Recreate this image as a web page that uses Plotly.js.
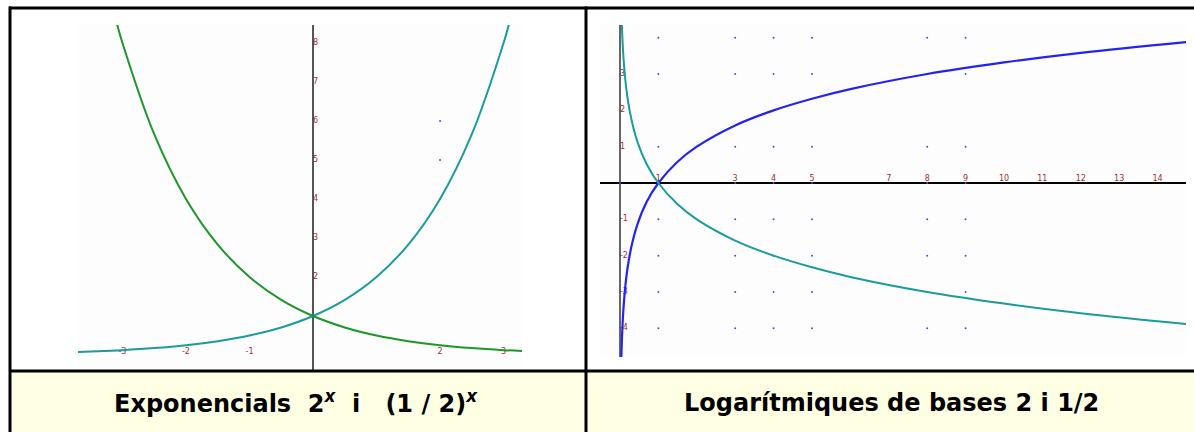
<!DOCTYPE html>
<html>
<head>
<meta charset="utf-8">
<script src="https://cdn.plot.ly/plotly-3.0.1.min.js"></script>
<style>
  html, body { margin: 0; padding: 0; background: #ffffff; }
  #chart { width: 1194px; height: 432px; }
</style>
</head>
<body>
<div id="chart"></div>
<script>
// Exponencials: valors llegits de la imatge
const expX = [-3.7, -3.5, -3.0, -2.5, -2.0, -1.5, -1.0, -0.5, 0, 0.5, 1.0, 1.5, 2.0, 2.5, 3.0, 3.1];
const exp2 = [0.077, 0.088, 0.125, 0.177, 0.25, 0.354, 0.5, 0.707, 1, 1.414, 2, 2.83, 4, 5.66, 8, 8.57];
const halfX = [-3.1, -3.0, -2.5, -2.0, -1.5, -1.0, -0.5, 0, 0.5, 1.0, 1.5, 2.0, 2.5, 3.0, 3.3];
const expHalf = [8.57, 8, 5.66, 4, 2.83, 2, 1.414, 1, 0.707, 0.5, 0.354, 0.25, 0.177, 0.125, 0.102];

// Logaritmes
const logX = [0.036, 0.05, 0.07, 0.1, 0.14, 0.2, 0.3, 0.45, 0.7, 1, 1.5, 2, 3, 4, 5, 6, 8, 10, 12, 14.74];
const log2 = [-4.8, -4.32, -3.84, -3.32, -2.84, -2.32, -1.74, -1.15, -0.51, 0, 0.585, 1, 1.585, 2, 2.32, 2.585, 3, 3.32, 3.585, 3.88];
const logHalf = [4.8, 4.32, 3.84, 3.32, 2.84, 2.32, 1.74, 1.15, 0.51, 0, -0.585, -1, -1.585, -2, -2.32, -2.585, -3, -3.32, -3.585, -3.88];

// etiquetes dels eixos
const leftXTicks = [-3, -2, -1, 2, 3];
const leftYTicks = [2, 3, 4, 5, 6, 7, 8];
const rightXTicks = [1, 3, 4, 5, 7, 8, 9, 10, 11, 12, 13, 14];
const rightYTicks = [3, 2, 1, -1, -2, -3, -4];

// punts de la quadrícula
const leftDotX = [0, 2];
const leftDotY = [6, 5, 4];
const rightDotX = [0, 1, 3, 4, 5, 8, 9];
const rightDotY = [4, 3, 1, 0, -1, -2, -3, -4];

const captions = ["Exponencials\u00a0\u00a02<sup><i>x</i></sup>\u00a0\u00a0i\u00a0\u00a0\u00a0(1 / 2)<sup><i>x</i></sup>",
                  "Logarítmiques de bases 2 i 1/2"];

const W = 1194, H = 432;
const fx = p => p / W;
const fy = p => 1 - p / H;

function grid(xs, ys) {
    const gx = [], gy = [];
    xs.forEach(x => ys.forEach(y => { gx.push(x); gy.push(y); }));
    return { x: gx, y: gy };
}

const lg = grid(leftDotX, leftDotY);
const rg = grid(rightDotX, rightDotY);
const tickFont = { family: "DejaVu Sans", size: 8, color: "#a03030" };
const dotMarker = { color: "#5050c8", size: 2 };

const traces = [
    { x: lg.x, y: lg.y, mode: "markers", marker: dotMarker, xaxis: "x", yaxis: "y", hoverinfo: "skip" },
    { x: rg.x, y: rg.y, mode: "markers", marker: dotMarker, xaxis: "x2", yaxis: "y2", hoverinfo: "skip" },
    { x: leftXTicks, y: leftXTicks.map(() => 0.08), mode: "text", text: leftXTicks.map(String),
      textfont: tickFont, textposition: "middle center", xaxis: "x", yaxis: "y" },
    { x: leftYTicks.map(() => 0), y: leftYTicks, mode: "text", text: leftYTicks.map(String),
      textfont: tickFont, textposition: "middle right", xaxis: "x", yaxis: "y" },
    { x: rightXTicks, y: rightXTicks.map(() => 0), mode: "text", text: rightXTicks.map(String),
      textfont: tickFont, textposition: "top center", xaxis: "x2", yaxis: "y2" },
    { x: rightYTicks.map(() => 0), y: rightYTicks, mode: "text", text: rightYTicks.map(String),
      textfont: tickFont, textposition: "middle right", xaxis: "x2", yaxis: "y2" },
    { x: expX, y: exp2, mode: "lines", line: { color: "#1a9c9c", width: 2, shape: "spline" }, xaxis: "x", yaxis: "y" },
    { x: halfX, y: expHalf, mode: "lines", line: { color: "#1d962a", width: 2, shape: "spline" }, xaxis: "x", yaxis: "y" },
    { x: logX, y: log2, mode: "lines", line: { color: "#2424f0", width: 2.2, shape: "spline" }, xaxis: "x2", yaxis: "y2" },
    { x: logX, y: logHalf, mode: "lines", line: { color: "#1a9c9c", width: 2, shape: "spline" }, xaxis: "x2", yaxis: "y2" }
];

const noTicks = { showticklabels: false, showgrid: false, ticks: "", showline: false, fixedrange: true };
const capFont = { family: "DejaVu Sans", size: 24, color: "#000000", weight: "bold" };

const layout = {
    width: W, height: H,
    margin: { l: 0, r: 0, t: 0, b: 0 },
    showlegend: false,
    paper_bgcolor: "#ffffff",
    plot_bgcolor: "#fdfdfd",
    xaxis: Object.assign({}, noTicks, { domain: [fx(78), fx(522)], range: [-3.70, 3.29],
        zeroline: true, zerolinecolor: "#555555", zerolinewidth: 2 }),
    yaxis: Object.assign({}, noTicks, { domain: [fy(371), fy(25)], range: [-0.41, 8.46], zeroline: false }),
    xaxis2: Object.assign({}, noTicks, { domain: [fx(600), fx(1186)], range: [-0.52, 14.74], anchor: "y2",
        zeroline: true, zerolinecolor: "#666666", zerolinewidth: 2 }),
    yaxis2: Object.assign({}, noTicks, { domain: [fy(357), fy(25)], range: [-4.79, 4.35], anchor: "x2",
        zeroline: true, zerolinecolor: "#000000", zerolinewidth: 1.5 }),
    shapes: [
        // cel·les dels peus
        { type: "rect", xref: "paper", yref: "paper", x0: fx(11), x1: fx(585), y0: 0, y1: fy(372),
          fillcolor: "#ffffe3", line: { width: 0 }, layer: "below" },
        { type: "rect", xref: "paper", yref: "paper", x0: fx(587), x1: 1, y0: 0, y1: fy(372),
          fillcolor: "#ffffe3", line: { width: 0 }, layer: "below" },
        // vores de la taula
        { type: "rect", xref: "paper", yref: "paper", x0: fx(9), x1: 1, y0: fy(9.5), y1: fy(6.5),
          fillcolor: "#000000", line: { width: 0 } },
        { type: "rect", xref: "paper", yref: "paper", x0: fx(8.5), x1: fx(11.5), y0: 0, y1: fy(6.5),
          fillcolor: "#000000", line: { width: 0 } },
        { type: "rect", xref: "paper", yref: "paper", x0: fx(584.5), x1: fx(587.5), y0: 0, y1: fy(6.5),
          fillcolor: "#000000", line: { width: 0 } },
        { type: "rect", xref: "paper", yref: "paper", x0: fx(9), x1: 1, y0: fy(372.5), y1: fy(369.5),
          fillcolor: "#000000", line: { width: 0 } }
    ],
    annotations: [
        { text: captions[0], xref: "paper", yref: "paper", x: fx(296), y: fy(402), showarrow: false,
          xanchor: "center", yanchor: "middle", font: capFont },
        { text: captions[1], xref: "paper", yref: "paper", x: fx(891), y: fy(403), showarrow: false,
          xanchor: "center", yanchor: "middle", font: capFont }
    ]
};

Plotly.newPlot("chart", traces, layout, { staticPlot: true, displayModeBar: false });
</script>
</body>
</html>
